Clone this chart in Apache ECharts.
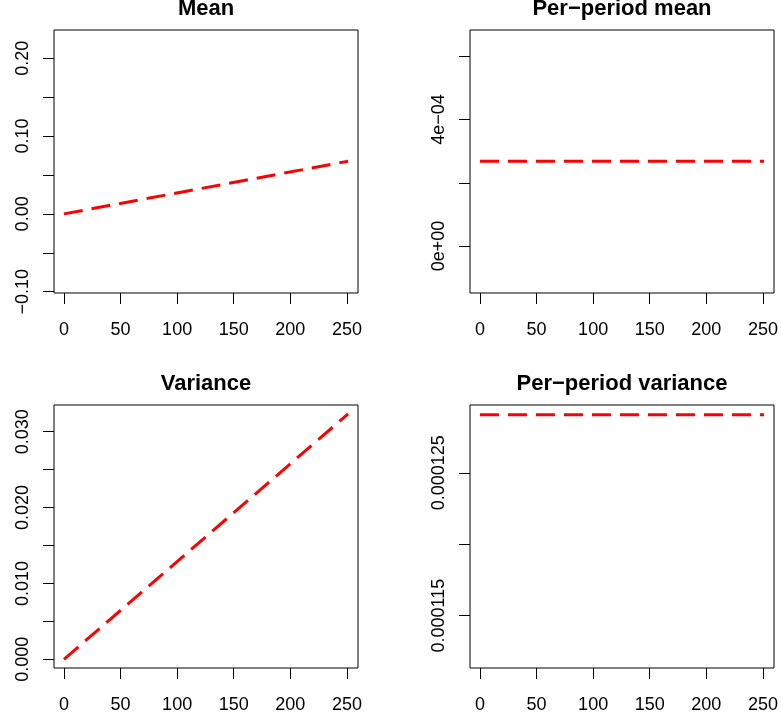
<!DOCTYPE html>
<html>
<head>
<meta charset="utf-8">
<script src="https://cdn.jsdelivr.net/npm/echarts@6/dist/echarts.min.js"></script>
<style>
html,body{margin:0;padding:0;background:#fff;}
#chart{width:781px;height:719px;}
</style>
</head>
<body>
<div id="chart"></div>
<script>
// ---- data ----
const titles = ['Mean', 'Per\u2212period mean', 'Variance', 'Per\u2212period variance'];
const periods = [0, 251];
const meanValues = [0, 0.0676];
const perPeriodMeanValues = [0.000268, 0.000268];
const varianceValues = [0, 0.03234];
const perPeriodVarianceValues = [0.00012907, 0.00012907];

const xTicks = [0, 50, 100, 150, 200, 250];
const meanTicks = [-0.1, -0.05, 0, 0.05, 0.1, 0.15, 0.2];
const meanLabels = [-0.1, 0, 0.1, 0.2];
const ppMeanTicks = [0, 0.0002, 0.0004, 0.0006];
const ppMeanLabels = [0, 0.0004];
const varTicks = [0, 0.005, 0.01, 0.015, 0.02, 0.025, 0.03];
const varLabels = [0, 0.01, 0.02, 0.03];
const ppVarTicks = [0.000115, 0.00012, 0.000125];
const ppVarLabels = [0.000115, 0.000125];

// ---- layout ----
const FONT = '"Liberation Sans", Arial, Helvetica, sans-serif';
const boxes = [
  {left: 54, top: 30, width: 304, height: 263},
  {left: 470, top: 30, width: 304, height: 263},
  {left: 54, top: 405, width: 304, height: 263},
  {left: 470, top: 405, width: 304, height: 263}
];
const xRange = [-8.8, 259.8];
const yRanges = [
  [-0.1017, 0.2363],
  [-0.0001485, 0.0006834],
  [-0.00115, 0.03352],
  [0.00011133, 0.00012975]
];
const yTickSets = [meanTicks, ppMeanTicks, varTicks, ppVarTicks];
const yLabelSets = [meanLabels, ppMeanLabels, varLabels, ppVarLabels];
const yFormatters = [
  v => (Math.abs(v) < 1e-12 ? '0.00' : (v < 0 ? '\u2212' + Math.abs(v).toFixed(2) : v.toFixed(2))),
  v => (Math.abs(v) < 1e-12 ? '0e+00' : (v / 1e-4).toFixed(0) + 'e\u221204'),
  v => v.toFixed(3),
  v => v.toFixed(6)
];
const seriesValues = [meanValues, perPeriodMeanValues, varianceValues, perPeriodVarianceValues];

const chart = echarts.init(document.getElementById('chart'), null, {renderer: 'canvas'});

const grid = boxes.map(b => ({
  left: b.left, top: b.top, width: b.width, height: b.height,
  show: true, borderColor: '#000', borderWidth: 1, backgroundColor: 'transparent'
}));

const xAxis = boxes.map((b, i) => ({
  type: 'value', gridIndex: i, min: xRange[0], max: xRange[1], position: 'bottom',
  axisLine: {show: false, onZero: false},
  splitLine: {show: false},
  axisTick: {show: true, inside: false, length: 11, lineStyle: {color: '#000', width: 1}, customValues: xTicks},
  axisLabel: {show: true, margin: 28, color: '#000', fontSize: 18, fontFamily: FONT, customValues: xTicks,
    formatter: v => String(Math.round(v))}
}));

const yAxis = boxes.map((b, i) => ({
  type: 'value', gridIndex: i, min: yRanges[i][0], max: yRanges[i][1], position: 'left',
  axisLine: {show: false, onZero: false},
  splitLine: {show: false},
  axisTick: {show: true, inside: false, length: 11, lineStyle: {color: '#000', width: 1}, customValues: yTickSets[i]},
  axisLabel: {show: true, rotate: 90, margin: 22, color: '#000', fontSize: 18, fontFamily: FONT,
    customValues: yLabelSets[i], formatter: yFormatters[i]}
}));

const title = boxes.map((b, i) => ({
  text: titles[i],
  left: b.left + b.width / 2,
  top: b.top - 32,
  padding: 0,
  textAlign: 'center',
  textStyle: {fontSize: 22, fontWeight: 'bold', color: '#000', fontFamily: FONT}
}));

const series = boxes.map((b, i) => ({
  type: 'line', xAxisIndex: i, yAxisIndex: i,
  data: periods.map((p, k) => [p, seriesValues[i][k]]),
  showSymbol: false, symbol: 'none',
  lineStyle: {color: '#ff0000', width: 3, type: [19, 9], cap: 'butt'},
  animation: false, silent: true
}));

chart.setOption({
  animation: false,
  backgroundColor: '#fff',
  title, grid, xAxis, yAxis, series
});
</script>
</body>
</html>
